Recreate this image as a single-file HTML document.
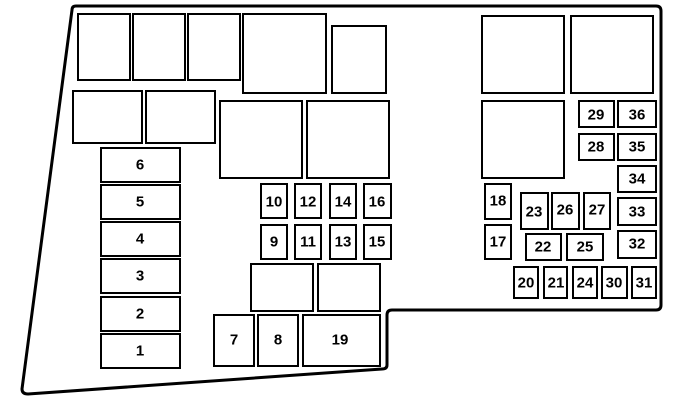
<!DOCTYPE html>
<html><head><meta charset="utf-8"><style>
html,body{margin:0;padding:0;background:#fff;}
svg{display:block}
text{font-family:"Liberation Sans",sans-serif;font-weight:bold;font-size:15px;text-anchor:middle;dominant-baseline:central;fill:#000}
rect{fill:#fff;stroke:#000;stroke-width:2}
</style></head><body>
<svg width="673" height="414" viewBox="0 0 673 414" xmlns="http://www.w3.org/2000/svg">
<path d="M72,10 Q72,6 76,6 L656,6 Q661,6 661,11 L661,305 Q661,310 656,310 L392,310 Q387,310 387,315 L387,365 Q387,369 382,369 L28,394 Q22,394 22,389 L72,10 Z" fill="#fff" stroke="#000" stroke-width="3"/>
<!-- top row -->
<rect x="78" y="14" width="52" height="66"/>
<rect x="133" y="14" width="52" height="66"/>
<rect x="188" y="14" width="52" height="66"/>
<rect x="243" y="14" width="83" height="79"/>
<rect x="332" y="26" width="54" height="67"/>
<rect x="73" y="91" width="69" height="52"/>
<rect x="146" y="91" width="69" height="52"/>
<rect x="220" y="101" width="82" height="77"/>
<rect x="307" y="101" width="82" height="77"/>
<!-- 1-6 -->
<rect x="101" y="148" width="79" height="34"/><text x="140" y="165">6</text>
<rect x="101" y="185" width="79" height="34"/><text x="140" y="202">5</text>
<rect x="101" y="222" width="79" height="34"/><text x="140" y="239">4</text>
<rect x="101" y="259" width="79" height="34"/><text x="140" y="276">3</text>
<rect x="101" y="297" width="79" height="34"/><text x="140" y="314">2</text>
<rect x="101" y="334" width="79" height="34"/><text x="140" y="351">1</text>
<!-- small -->
<rect x="261" y="184" width="26" height="34"/><text x="274" y="202">10</text>
<rect x="295" y="184" width="26" height="34"/><text x="308" y="202">12</text>
<rect x="330" y="184" width="26" height="34"/><text x="343" y="202">14</text>
<rect x="364" y="184" width="27" height="34"/><text x="377" y="202">16</text>
<rect x="261" y="225" width="26" height="34"/><text x="274" y="242">9</text>
<rect x="295" y="225" width="26" height="34"/><text x="308" y="242">11</text>
<rect x="330" y="225" width="26" height="34"/><text x="343" y="242">13</text>
<rect x="364" y="225" width="27" height="34"/><text x="377" y="242">15</text>
<rect x="251" y="264" width="62" height="47"/>
<rect x="318" y="264" width="62" height="47"/>
<rect x="214" y="315" width="40" height="51"/><text x="234" y="340">7</text>
<rect x="258" y="315" width="40" height="51"/><text x="278" y="340">8</text>
<rect x="303" y="315" width="77" height="51"/><text x="340" y="340">19</text>
<!-- right -->
<rect x="482" y="16" width="82" height="77"/>
<rect x="571" y="16" width="82" height="77"/>
<rect x="482" y="101" width="82" height="77"/>
<rect x="579" y="101" width="35" height="26"/><text x="596" y="115">29</text>
<rect x="618" y="101" width="38" height="26"/><text x="637" y="115">36</text>
<rect x="579" y="134" width="35" height="26"/><text x="596" y="147">28</text>
<rect x="618" y="134" width="38" height="26"/><text x="637" y="147">35</text>
<rect x="618" y="166" width="38" height="26"/><text x="637" y="179">34</text>
<rect x="618" y="198" width="38" height="27"/><text x="637" y="212">33</text>
<rect x="618" y="231" width="38" height="27"/><text x="637" y="244">32</text>
<rect x="485" y="184" width="26" height="35"/><text x="498" y="201">18</text>
<rect x="485" y="225" width="26" height="34"/><text x="498" y="242">17</text>
<rect x="521" y="193" width="27" height="36"/><text x="534" y="212">23</text>
<rect x="552" y="193" width="27" height="36"/><text x="565" y="210">26</text>
<rect x="584" y="193" width="26" height="36"/><text x="597" y="210">27</text>
<rect x="526" y="234" width="35" height="26"/><text x="543" y="247">22</text>
<rect x="567" y="234" width="36" height="26"/><text x="585" y="247">25</text>
<rect x="514" y="267" width="24" height="31"/><text x="526" y="283">20</text>
<rect x="544" y="267" width="23" height="31"/><text x="556" y="283">21</text>
<rect x="573" y="267" width="24" height="31"/><text x="585" y="283">24</text>
<rect x="602" y="267" width="25" height="31"/><text x="614" y="283">30</text>
<rect x="632" y="267" width="24" height="31"/><text x="644" y="283">31</text>
</svg>
</body></html>
